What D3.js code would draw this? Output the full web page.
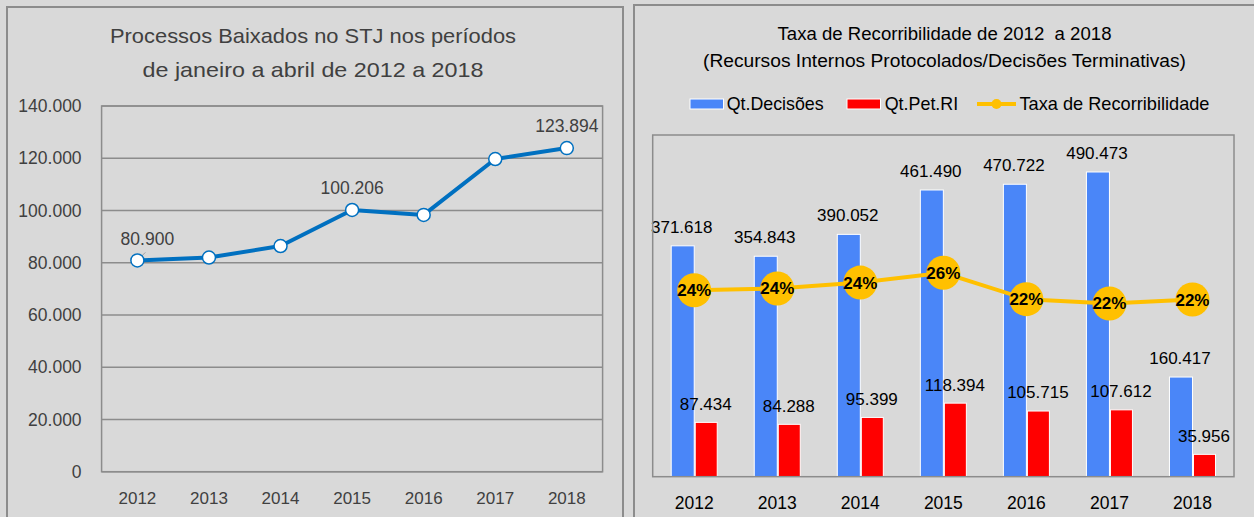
<!DOCTYPE html>
<html><head><meta charset="utf-8">
<script src="https://cdn.jsdelivr.net/npm/d3@7"></script>
<style>html,body{margin:0;padding:0;background:#d9d9d9;}svg{display:block;}</style>
</head><body>
<svg id="c" width="1254" height="517"></svg>
<script>
// ---- data ----
const years = ["2012","2013","2014","2015","2016","2017","2018"];
const baixados = [80900, 82000, 86400, 100206, 98300, 119700, 123894];
const baixadosLabeled = [true, false, false, true, false, false, true];
const leftTicks = [0, 20000, 40000, 60000, 80000, 100000, 120000, 140000];
const qtDecisoes = [371618, 354843, 390052, 461490, 470722, 490473, 160417];
const qtPetRI = [87434, 84288, 95399, 118394, 105715, 107612, 35956];
const taxa = [0.2353, 0.2375, 0.2446, 0.2565, 0.2246, 0.2194, 0.2241];
const leftTitle = ["Processos Baixados no STJ nos períodos", "de janeiro a abril de 2012 a 2018"];
const rightTitle = ["Taxa de Recorribilidade de 2012  a 2018", "(Recursos Internos Protocolados/Decisões Terminativas)"];
const legendNames = ["Qt.Decisões", "Qt.Pet.RI", "Taxa de Recorribilidade"];

const FONT = "'Liberation Sans', Arial, sans-serif";
const pt = d3.formatLocale({decimal: ",", thousands: ".", grouping: [3], currency: ["R$", ""]});
const fmt = pt.format(",");
const pct = d3.format(".0%");

const svg = d3.select("#c");
svg.append("rect").attr("width",1254).attr("height",517).attr("fill","#d9d9d9");

// panels
svg.append("rect").attr("x",7).attr("y",7).attr("width",616).attr("height",540)
  .attr("fill","#d9d9d9").attr("stroke","#8c8c8c").attr("stroke-width",2);
svg.append("rect").attr("x",634).attr("y",5).attr("width",640).attr("height",540)
  .attr("fill","#d9d9d9").attr("stroke","#8c8c8c").attr("stroke-width",2);

// ===== LEFT CHART =====
const L = {x0:101.6, x1:602.6, y0:106, y1:471.7};
const lx = d3.scaleBand().domain(years).range([L.x0, L.x1]);
const ly = d3.scaleLinear().domain([0,140000]).range([L.y1, L.y0]);
const lg = svg.append("g");

// title
const ltw = [406, 341];
leftTitle.forEach((t,i)=>{
  lg.append("text").attr("x",313).attr("y",[36,70][i]).attr("dy","0.35em")
    .attr("text-anchor","middle").attr("font-family",FONT).attr("font-size",21)
    .attr("fill","#404040").attr("textLength",ltw[i]).attr("lengthAdjust","spacingAndGlyphs").text(t);
});

// gridlines
lg.selectAll(".grid").data(leftTicks).join("line")
  .attr("x1",L.x0).attr("x2",L.x1).attr("y1",d=>ly(d)).attr("y2",d=>ly(d))
  .attr("stroke","#8c8c8c").attr("stroke-width",1.5);
lg.append("rect").attr("x",L.x0).attr("y",L.y0).attr("width",L.x1-L.x0).attr("height",L.y1-L.y0)
  .attr("fill","none").attr("stroke","#8c8c8c").attr("stroke-width",1.5);

// y axis
const lya = d3.axisLeft(ly).tickValues(leftTicks).tickFormat(fmt).tickSize(0).tickPadding(20);
const lyg = lg.append("g").attr("transform",`translate(${L.x0},0)`).call(lya);
lyg.select(".domain").remove();
lyg.selectAll("text").attr("font-family",FONT).attr("font-size",17.5).attr("fill","#404040");

// x axis
const lxa = d3.axisBottom(lx).tickSize(0).tickPadding(20);
const lxg = lg.append("g").attr("transform",`translate(0,${L.y1})`).call(lxa);
lxg.select(".domain").remove();
lxg.selectAll("text").attr("font-family",FONT).attr("font-size",17).attr("fill","#404040");

// line
const lcx = (d,i)=>lx(years[i]) + lx.bandwidth()/2;
lg.append("path").datum(baixados)
  .attr("d", d3.line().x((d,i)=>lcx(d,i)).y(d=>ly(d)))
  .attr("fill","none").attr("stroke","#0070c0").attr("stroke-width",4).attr("stroke-linejoin","round");
// leader line artifact at first point
lg.append("line").attr("x1",lcx(0,0)).attr("y1",ly(baixados[0]))
  .attr("x2",lcx(0,0)+8).attr("y2",ly(baixados[0])-8).attr("stroke","#a0a0a0").attr("stroke-width",1);
lg.selectAll(".pt").data(baixados).join("circle")
  .attr("cx",(d,i)=>lcx(d,i)).attr("cy",d=>ly(d)).attr("r",6.5)
  .attr("fill","#ffffff").attr("stroke","#0070c0").attr("stroke-width",1.5);
lg.selectAll(".pl").data(baixados.map((v,i)=>({v,i})).filter(d=>baixadosLabeled[d.i])).join("text")
  .attr("x",d=>lcx(d.v,d.i) + (d.i===0?10:0)).attr("y",d=>ly(d.v)-22).attr("dy","0.35em")
  .attr("text-anchor","middle").attr("font-family",FONT).attr("font-size",17.5).attr("fill","#404040")
  .text(d=>fmt(d.v));

// ===== RIGHT CHART =====
const R = {x0:652.7, x1:1234, y0:135, y1:476.7};
const rx = d3.scaleBand().domain(years).range([R.x0, R.x1]).paddingInner(0.4458).paddingOuter(0.2229);
const rsub = d3.scaleBand().domain(["dec","pet"]).range([0, rx.bandwidth()]);
const ry = d3.scaleLinear().domain([0,550000]).range([R.y1, R.y0]);
const ry2 = d3.scaleLinear().domain([0.01,0.423]).range([R.y1, R.y0]);
const rg = svg.append("g");

const rtw = [334, 483];
rightTitle.forEach((t,i)=>{
  rg.append("text").attr("x",944.5).attr("y",[33.5,61][i]).attr("dy","0.35em")
    .attr("text-anchor","middle").attr("font-family",FONT).attr("font-size",17.5)
    .attr("fill","#000").attr("textLength",rtw[i]).attr("lengthAdjust","spacingAndGlyphs").attr("xml:space","preserve").text(t);
});

// legend
const leg = rg.append("g");
leg.append("rect").attr("x",690).attr("y",99).attr("width",33.5).attr("height",10)
  .attr("fill","#4a86f8").attr("stroke","#fff").attr("stroke-width",1);
leg.append("rect").attr("x",847).attr("y",99).attr("width",33.5).attr("height",10)
  .attr("fill","#ff0000").attr("stroke","#fff").attr("stroke-width",1);
leg.append("line").attr("x1",977).attr("x2",1016).attr("y1",104).attr("y2",104)
  .attr("stroke","#ffc000").attr("stroke-width",4);
leg.append("circle").attr("cx",996.5).attr("cy",104).attr("r",5).attr("fill","#ffc000");
const legX = [726.7, 884.7, 1019.5], legW = [97, 73.5, 190];
legendNames.forEach((t,i)=>{
  leg.append("text").attr("x",legX[i]).attr("y",104).attr("dy","0.35em")
    .attr("font-family",FONT).attr("font-size",18.5).attr("fill","#000")
    .attr("textLength",legW[i]).attr("lengthAdjust","spacingAndGlyphs").text(t);
});

// bars
const groups = rg.selectAll(".grp").data(years).join("g").attr("transform",d=>`translate(${rx(d)},0)`);
groups.append("rect").attr("x",rsub("dec")).attr("width",rsub.bandwidth())
  .attr("y",(d,i)=>ry(qtDecisoes[i])).attr("height",(d,i)=>R.y1-ry(qtDecisoes[i]))
  .attr("fill","#4a86f8").attr("stroke","#fff").attr("stroke-width",1);
groups.append("rect").attr("x",rsub("pet")+1).attr("width",rsub.bandwidth()-1)
  .attr("y",(d,i)=>ry(qtPetRI[i])).attr("height",(d,i)=>R.y1-ry(qtPetRI[i]))
  .attr("fill","#ff0000").attr("stroke","#fff").attr("stroke-width",1);
groups.append("text").attr("x",rsub("dec")+rsub.bandwidth()/2 - 1).attr("y",(d,i)=>ry(qtDecisoes[i])-19).attr("dy","0.35em")
  .attr("text-anchor","middle").attr("font-family",FONT).attr("font-size",17).attr("fill","#000")
  .text((d,i)=>fmt(qtDecisoes[i]));
groups.append("text").attr("x",rsub("pet")+rsub.bandwidth()/2).attr("y",(d,i)=>ry(qtPetRI[i])-18.5).attr("dy","0.35em")
  .attr("text-anchor","middle").attr("font-family",FONT).attr("font-size",17).attr("fill","#000")
  .text((d,i)=>fmt(qtPetRI[i]));

// rate line
const rcx = i => rx(years[i]) + rx.bandwidth()/2;
rg.append("path").datum(taxa)
  .attr("d", d3.line().x((d,i)=>rcx(i)).y(d=>ry2(d)))
  .attr("fill","none").attr("stroke","#ffc000").attr("stroke-width",4);
rg.selectAll(".rc").data(taxa).join("circle")
  .attr("cx",(d,i)=>rcx(i)).attr("cy",d=>ry2(d)).attr("r",17).attr("fill","#ffc000");
rg.selectAll(".rl").data(taxa).join("text")
  .attr("x",(d,i)=>rcx(i)).attr("y",d=>ry2(d)).attr("dy","0.35em")
  .attr("text-anchor","middle").attr("font-family",FONT).attr("font-weight","bold").attr("font-size",17)
  .attr("fill","#000").text(d=>pct(d));

// plot border
rg.append("rect").attr("x",R.x0).attr("y",R.y0).attr("width",R.x1-R.x0).attr("height",R.y1-R.y0)
  .attr("fill","none").attr("stroke","#8c8c8c").attr("stroke-width",1.5);

// x axis
const rxa = d3.axisBottom(rx).tickSize(0).tickPadding(0);
const rxg = rg.append("g").attr("transform",`translate(0,0)`).call(rxa);
rxg.select(".domain").remove();
rxg.selectAll("text").attr("y",503).attr("dy","0.35em").attr("font-family",FONT).attr("font-size",17.5).attr("fill","#000");
</script>
</body></html>
